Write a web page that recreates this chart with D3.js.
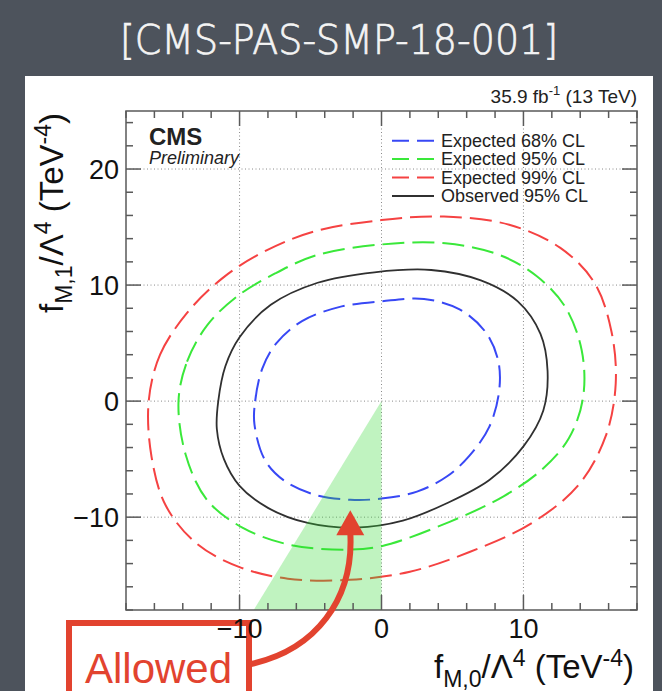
<!DOCTYPE html>
<meta charset="utf-8">
<script src="https://d3js.org/d3.v7.min.js"></script>
<body style="margin:0">
<svg width="662" height="691"></svg>
<script>
    // axis ticks
    var xMajor = [-10, 0, 10], yMajor = [-10, 0, 10, 20];
    var xMinor = d3.range(-18, 19, 2), yMinor = d3.range(-18, 26, 2);

    // contours (f_M0, f_M1)
    var exp68 = [[-8.95,-2.0],[-8.9,0],[-8.4,2.8],[-7.4,5.0],[-5.6,6.9],[-3.0,8.1],[0,8.6],[3.0,8.8],[5.5,7.9],[7.3,6.0],[8.2,3.6],[8.3,1.0],[7.6,-2.2],[6.2,-4.7],[4.6,-6.5],[2.5,-7.8],[0,-8.4],[-2.2,-8.5],[-4.6,-8.1],[-6.8,-6.9],[-8.2,-5.1]];
    var exp95 = [[-14.3,0],[-13.7,3.4],[-12.3,6.5],[-10.2,9.0],[-7.5,11.0],[-4.5,12.6],[0,13.5],[4.5,13.6],[8.3,12.6],[10.9,10.8],[12.9,8.2],[14.1,4.4],[14.2,0.3],[13.2,-3.2],[11.3,-5.9],[8.6,-8.2],[4.8,-10.4],[0,-12.5],[-2.5,-12.8],[-6.4,-12.4],[-9.8,-10.9],[-12.3,-8.5],[-13.8,-4.6]];
    var exp99 = [[-16.4,0],[-15.6,4],[-13.7,7.6],[-11.2,10.6],[-8.4,12.8],[-4.8,14.6],[0,15.6],[4.4,15.9],[9.0,15.2],[12.6,13.2],[15.0,10.2],[16.2,6.0],[16.5,1.5],[15.8,-3.0],[13.9,-7.2],[10.6,-10.5],[6.2,-13.0],[2.0,-14.7],[-2.2,-15.4],[-6.6,-15.3],[-10,-14.3],[-13.0,-12.3],[-15.2,-9.0],[-16.2,-4.8]];
    var obs95 = [[-11.5,0],[-11.0,3.0],[-10,5.5],[-7.8,8.3],[-4.5,10.2],[-0.5,11.1],[3.5,11.3],[7.0,10.4],[9.6,8.6],[11.2,5.8],[11.7,2.6],[11.4,-0.8],[10,-3.9],[7.6,-6.8],[4.6,-8.8],[1.5,-10.3],[-1.8,-10.9],[-5.2,-10.5],[-8.0,-9.2],[-10,-7.3],[-11.1,-5.0],[-11.6,-2.4]];
    var allowed = [[0,0],[-9,-18],[0,-18]];
    var arrowTip = [-2.2, -9.4];

    var labels = ['Expected 68% CL', 'Expected 95% CL', 'Expected 99% CL', 'Observed 95% CL'];
    var colors = ['#3848f5', '#3ae83a', '#f54242', '#303030'];
    var dashes = ['22,8', '22,8', '22,8', null];
    var curves = [exp68, exp95, exp99, obs95];

    var svg = d3.select('svg');
    var font = 'Liberation Sans, Arial, Helvetica, sans-serif';
    var red = '#e2432f';

    svg.append('rect').attr('width', 662).attr('height', 691).attr('fill', '#4d535c');
    svg.append('rect').attr('x', 25).attr('y', 76).attr('width', 628).attr('height', 620).attr('fill', '#fff');

    svg.append('text')
        .attr('x', 339).attr('y', 54)
        .attr('text-anchor', 'middle')
        .attr('font-family', 'DejaVu Sans ExtraLight, DejaVu Sans Light, DejaVu Sans, sans-serif')
        .attr('font-weight', 200)
        .attr('font-size', 40)
        .attr('textLength', 438).attr('lengthAdjust', 'spacingAndGlyphs')
        .attr('fill', '#f4f4f4').attr('stroke', '#f4f4f4').attr('stroke-width', 0.7)
        .text('[CMS-PAS-SMP-18-001]');

    var x = d3.scaleLinear().domain([-18, 18]).range([126, 637]);
    var y = d3.scaleLinear().domain([-18, 25]).range([610, 111]);

    // grid
    var grid = svg.append('g').attr('stroke', '#8a8a8a').attr('stroke-dasharray', '1,2.5');
    grid.selectAll('.gx').data(xMajor).enter().append('line')
        .attr('x1', d => x(d)).attr('x2', d => x(d)).attr('y1', y(25)).attr('y2', y(-18));
    grid.selectAll('.gy').data(yMajor).enter().append('line')
        .attr('y1', d => y(d)).attr('y2', d => y(d)).attr('x1', x(-18)).attr('x2', x(18));

    var line = d3.line().x(d => x(d[0])).y(d => y(d[1])).curve(d3.curveCatmullRomClosed.alpha(0.5));

    svg.selectAll('.contour').data(curves).enter().append('path')
        .attr('d', line)
        .attr('fill', 'none')
        .attr('stroke', (d, i) => colors[i])
        .attr('stroke-width', (d, i) => i == 3 ? 1.8 : 2)
        .attr('stroke-dasharray', (d, i) => dashes[i]);

    // allowed region overlay
    svg.append('path')
        .attr('d', d3.line().x(d => x(d[0])).y(d => y(d[1]))(allowed) + 'Z')
        .attr('fill', '#2fd82f').attr('fill-opacity', 0.3);

    // frame and ticks
    svg.append('rect').attr('x', x(-18)).attr('y', y(25)).attr('width', x(18) - x(-18)).attr('height', y(-18) - y(25))
        .attr('fill', 'none').attr('stroke', '#5a5a5a').attr('stroke-width', 1.5);
    var ticks = svg.append('g').attr('stroke', '#5a5a5a').attr('stroke-width', 1.5);
    xMinor.forEach(function(v){
        var len = xMajor.indexOf(v) >= 0 ? 15 : 7;
        ticks.append('line').attr('x1', x(v)).attr('x2', x(v)).attr('y1', y(-18)).attr('y2', y(-18) - len);
        ticks.append('line').attr('x1', x(v)).attr('x2', x(v)).attr('y1', y(25)).attr('y2', y(25) + len);
    });
    yMinor.forEach(function(v){
        var len = yMajor.indexOf(v) >= 0 ? 15 : 7;
        ticks.append('line').attr('y1', y(v)).attr('y2', y(v)).attr('x1', x(-18)).attr('x2', x(-18) + len);
        ticks.append('line').attr('y1', y(v)).attr('y2', y(v)).attr('x1', x(18)).attr('x2', x(18) - len);
    });

    // legend
    var leg = svg.append('g');
    labels.forEach(function(l, i){
        var by = 146.7 + i * 18.4;
        leg.append('line').attr('x1', 392).attr('x2', 434).attr('y1', by - 6).attr('y2', by - 6)
            .attr('stroke', colors[i]).attr('stroke-width', 2)
            .attr('stroke-dasharray', dashes[i] ? '17,8' : null);
        leg.append('text').attr('x', 441).attr('y', by)
            .attr('font-family', font).attr('font-size', 18).attr('fill', '#222').text(l);
    });

    svg.append('text').attr('x', 149).attr('y', 145)
        .attr('font-family', font).attr('font-size', 24).attr('font-weight', 'bold').attr('fill', '#222').text('CMS');
    svg.append('text').attr('x', 149).attr('y', 164)
        .attr('font-family', font).attr('font-size', 18).attr('font-style', 'italic').attr('fill', '#222').text('Preliminary');

    var lumi = svg.append('text').attr('x', 637).attr('y', 103).attr('text-anchor', 'end')
        .attr('font-family', font).attr('font-size', 19).attr('fill', '#222');
    lumi.append('tspan').text('35.9 fb');
    lumi.append('tspan').attr('dy', -8).attr('font-size', 13).text('-1');
    lumi.append('tspan').attr('dy', 8).text(' (13 TeV)');

    // annotation box and arrow
    svg.append('rect').attr('x', 69).attr('y', 623).attr('width', 180).attr('height', 90)
        .attr('fill', 'none').attr('stroke', red).attr('stroke-width', 6);
    svg.append('text').attr('x', 85).attr('y', 683)
        .attr('font-family', font).attr('font-size', 42).attr('fill', red).text('Allowed');

    var tx = x(arrowTip[0]), ty = y(arrowTip[1]);
    var p = d3.path();
    p.moveTo(251, 664);
    p.bezierCurveTo(315, 650, tx + 4, 600, tx, ty + 22);
    svg.append('path').attr('d', p.toString()).attr('fill', 'none').attr('stroke', red).attr('stroke-width', 6);
    svg.append('path')
        .attr('d', 'M' + tx + ',' + ty + 'L' + (tx - 14) + ',' + (ty + 25) + 'L' + (tx + 14) + ',' + (ty + 25) + 'Z')
        .attr('fill', red);

    // tick labels
    var fmt = d3.format('d');
    svg.selectAll('.xl').data(xMajor).enter().append('text')
        .attr('x', d => x(d)).attr('y', 638).attr('text-anchor', 'middle')
        .attr('font-family', font).attr('font-size', 27).attr('fill', '#111').text(d => fmt(d));
    svg.selectAll('.yl').data(yMajor).enter().append('text')
        .attr('x', 119).attr('y', d => y(d) + 10).attr('text-anchor', 'end')
        .attr('font-family', font).attr('font-size', 27).attr('fill', '#111').text(d => fmt(d));

    // axis titles
    function title(sel, sub){
        sel.append('tspan').text('f');
        sel.append('tspan').attr('dy', 9).attr('font-size', 23).text(sub);
        sel.append('tspan').attr('dy', -9).text('/\u039B');
        sel.append('tspan').attr('dy', -12).attr('font-size', 23).text('4');
        sel.append('tspan').attr('dy', 12).text(' (TeV');
        sel.append('tspan').attr('dy', -12).attr('font-size', 23).text('-4');
        sel.append('tspan').attr('dy', 12).text(')');
    }
    var xt = svg.append('text').attr('x', 634).attr('y', 678).attr('text-anchor', 'end')
        .attr('font-family', font).attr('font-size', 33).attr('fill', '#111');
    title(xt, 'M,0');
    var yt = svg.append('text').attr('transform', 'translate(63,113) rotate(-90)').attr('text-anchor', 'end')
        .attr('font-family', font).attr('font-size', 33).attr('fill', '#111');
    title(yt, 'M,1');
</script>
</body>
